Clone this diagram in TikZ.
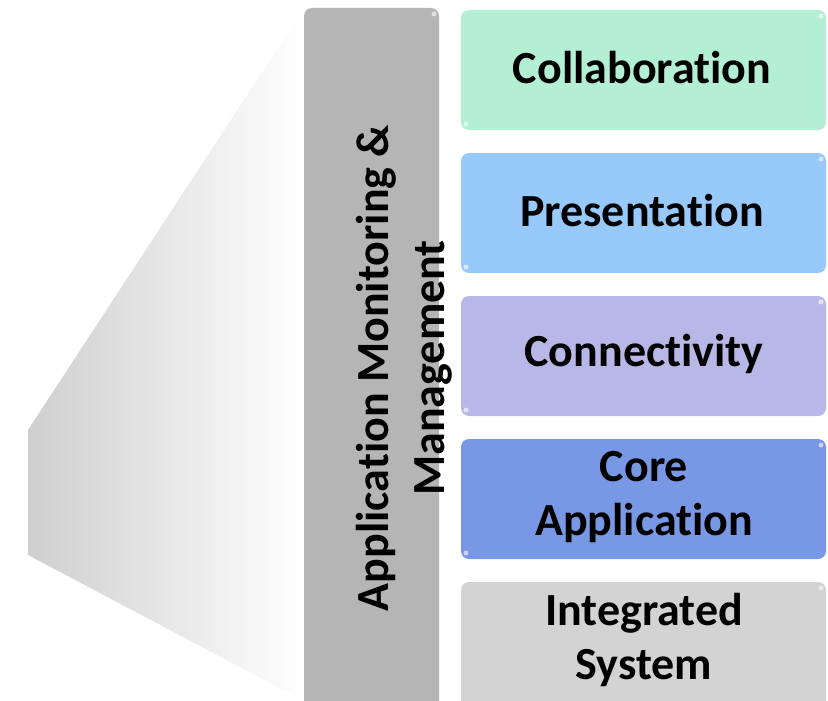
\documentclass[tikz,border=0pt]{standalone}
\usepackage{fontspec}
\setmainfont{Carlito}[Ligatures=NoCommon]
\begin{document}
\begin{tikzpicture}[x=1pt,y=-1pt,
  layer/.style={draw=none,rounded corners=8pt},
  gloss/.style={fill=white,opacity=0.6},
  lbl/.style={font=\fontsize{46}{54}\selectfont\bfseries,align=center,text=black,inner sep=0pt}]
\definecolor{cCollab}{HTML}{B3EFD3}
\definecolor{cPres}{HTML}{97C9FA}
\definecolor{cConn}{HTML}{B8B8E8}
\definecolor{cCore}{HTML}{7897E4}
\definecolor{cInt}{HTML}{D3D3D3}
\definecolor{cSide}{HTML}{B5B5B5}
\useasboundingbox (0,0) rectangle (828,701);
\clip (0,0) rectangle (828,701);
% wedge
\shade[left color=black!19,right color=white] (28,430) -- (304,8) -- (304,701) -- (28,555) -- cycle;
% side bar
\fill[cSide,rounded corners=8pt] (304,8) rectangle (439,712);
\fill[gloss] (434,14) circle (2.5);
\node[lbl,rotate=90,font=\fontsize{46}{56}\selectfont\bfseries] (side) at (404,368) {Application Monitoring \&\\Management};
% layers
\fill[cCollab,layer] (461,10) rectangle (826,130);
\fill[gloss] (821,16) circle (2.5) (466,124) circle (2.5);
\node[lbl] (collab) at (642,68) {Collaboration};
\fill[cPres,layer] (461,153) rectangle (826,273);
\fill[gloss] (821,159) circle (2.5) (466,267) circle (2.5);
\node[lbl] (pres) at (642,211) {Presentation};
\fill[cConn,layer] (461,296) rectangle (826,416);
\fill[gloss] (821,302) circle (2.5) (466,410) circle (2.5);
\node[lbl] (conn) at (644,354) {Connectivity};
\fill[cCore,layer] (461,439) rectangle (826,559);
\fill[gloss] (821,445) circle (2.5) (466,553) circle (2.5);
\node[lbl] (core) at (644,497) {Core\\Application};
\fill[cInt,layer] (461,582) rectangle (826,712);
\fill[gloss] (821,588) circle (2.5);
\node[lbl] (int) at (644,640) {Integrated\\ System};
\end{tikzpicture}
\end{document}
